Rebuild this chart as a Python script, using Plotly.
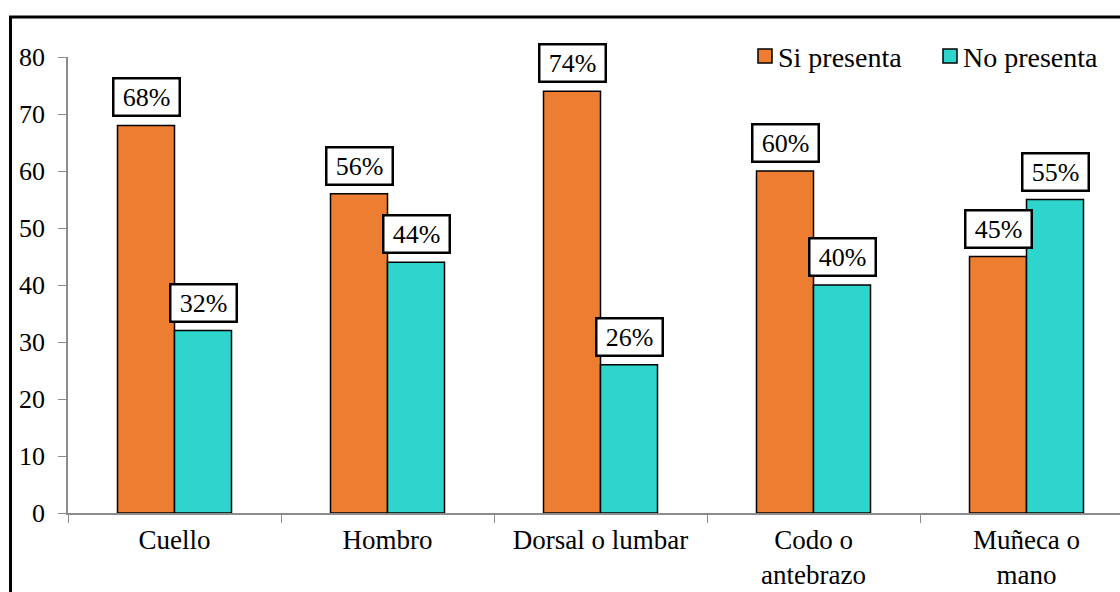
import plotly.graph_objects as go

# Body regions and share of respondents reporting pain (%)
categories = ["Cuello", "Hombro", "Dorsal o lumbar", "Codo o<br>antebrazo", "Muñeca o<br>mano"]
si_presenta = [68, 56, 74, 60, 45]
no_presenta = [32, 44, 26, 40, 55]
series_names = ["Si presenta", "No presenta"]
y_ticks = [0, 10, 20, 30, 40, 50, 60, 70, 80]

ORANGE = "#ED7D31"
TEAL = "#2DD5CD"
AXIS_GREY = "#8C8C8C"
FONT = "Liberation Serif"
THIN = "\u2009"

W, H = 1120, 592
ML, MR, MT, MB = 68, 0, 57, 79
PW, PH = W - ML - MR, H - MT - MB
CAT_PX = 213  # pixel width of one category slot
BAR_PX = 57

fig = go.Figure()
for name, vals, col in [(series_names[0], si_presenta, ORANGE), (series_names[1], no_presenta, TEAL)]:
    fig.add_trace(go.Bar(
        x=categories, y=vals, name=name,
        marker=dict(color=col, line=dict(color="black", width=1.5)),
        showlegend=False,
    ))

# Value labels in outlined boxes above each bar
for vals, shift in [(si_presenta, -BAR_PX / 2), (no_presenta, BAR_PX / 2)]:
    for cat, v in zip(categories, vals):
        fig.add_annotation(
            x=cat, y=v, xref="x", yref="y", text=f"{THIN}{v}%{THIN}",
            showarrow=False, yanchor="bottom", xshift=shift, yshift=8,
            font=dict(family=FONT, size=26, color="black"),
            bgcolor="white", bordercolor="black", borderwidth=2.5, borderpad=3,
        )

def px_x(x):
    return (x - ML) / PW

def px_y(y):
    return (H - MB - y) / PH

# Legend drawn as swatches + labels
for (sx, tx), name, col in [((758, 776), series_names[0], ORANGE), ((943, 961), series_names[1], TEAL)]:
    fig.add_shape(type="rect", xref="paper", yref="paper",
                  x0=px_x(sx), x1=px_x(sx + 14), y0=px_y(63), y1=px_y(49),
                  fillcolor=col, line=dict(color="black", width=1.5))
    fig.add_annotation(x=px_x(tx), y=px_y(57), xref="paper", yref="paper",
                       text=name, showarrow=False, xanchor="left", yanchor="middle",
                       font=dict(family=FONT, size=28, color="black"))

# Outer frame
fig.add_shape(type="rect", xref="paper", yref="paper",
              x0=px_x(10.5), x1=px_x(1200), y0=px_y(700), y1=px_y(17),
              line=dict(color="black", width=3), fillcolor="rgba(0,0,0,0)", layer="above")

fig.update_layout(
    width=W, height=H,
    margin=dict(l=ML, r=MR, t=MT, b=MB, pad=0, autoexpand=False),
    paper_bgcolor="white", plot_bgcolor="white",
    barmode="group", bargap=1 - 2 * BAR_PX / CAT_PX, bargroupgap=0,
    font=dict(family=FONT, size=26, color="black"),
    xaxis=dict(
        type="category", range=[-0.5, -0.5 + PW / CAT_PX], automargin=False,
        showline=True, linecolor=AXIS_GREY, linewidth=1.5,
        ticks="outside", tickson="boundaries", ticklen=8, tickcolor=AXIS_GREY,
        showgrid=False, ticklabelstandoff=2,
        tickfont=dict(family=FONT, size=27, color="black"),
    ),
    yaxis=dict(
        range=[0, 80], tickvals=y_ticks, automargin=False,
        showline=True, linecolor=AXIS_GREY, linewidth=1.5,
        ticks="outside", ticklen=8, tickcolor=AXIS_GREY,
        showgrid=False, zeroline=False, ticklabelstandoff=8,
        tickfont=dict(family=FONT, size=26, color="black"),
    ),
)

fig.write_html("out.html")
